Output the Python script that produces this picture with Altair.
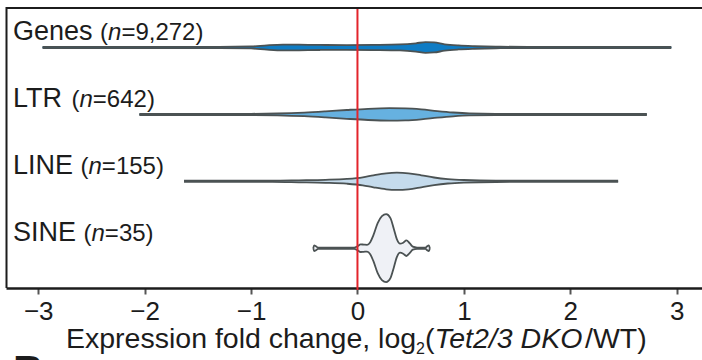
import altair as alt
import pandas as pd

# ---------------- data ----------------
CATEGORIES = ["Genes", "LTR", "LINE", "SINE"]
COUNTS = ["9,272", "642", "155", "35"]
FILLS = ["#0f7cc4", "#66b1e0", "#c5dbec", "#eff1f6"]

# violin outlines: x = log2 fold change, w = half-width (px)
GENES_X = [-2.96, -1.3, -1.0, -0.85, -0.7, -0.55, -0.35, -0.1, 0.15, 0.4, 0.55, 0.64, 0.72, 0.82, 0.95, 1.1, 1.3, 1.6, 2.95]
GENES_W = [0.6, 0.6, 1.0, 2.2, 2.9, 2.8, 2.5, 2.4, 2.6, 3.0, 4.2, 5.4, 5.0, 3.2, 2.0, 1.3, 0.8, 0.6, 0.6]

LTR_X = [-2.05, -1.0, -0.75, -0.5, -0.3, -0.1, 0.1, 0.3, 0.45, 0.6, 0.75, 0.9, 1.05, 1.3, 2.72]
LTR_W = [0.6, 0.6, 0.9, 1.8, 3.0, 4.4, 5.6, 6.2, 6.0, 5.0, 3.3, 1.9, 1.0, 0.6, 0.6]

LINE_X = [-1.63, -0.8, -0.55, -0.3, -0.1, 0.05, 0.15, 0.27, 0.37, 0.48, 0.6, 0.72, 0.85, 1.0, 1.3, 2.45]
LINE_W = [0.6, 0.6, 1.0, 1.5, 2.4, 4.0, 6.0, 8.0, 8.6, 8.0, 6.0, 3.8, 2.2, 1.3, 0.7, 0.6]

SINE_X = [-0.415, -0.408, -0.39, -0.37, -0.2, -0.03, 0.0, 0.03, 0.06, 0.09, 0.12, 0.15, 0.19, 0.23, 0.27,
          0.31, 0.34, 0.37, 0.40, 0.43, 0.46, 0.49, 0.52, 0.56, 0.64, 0.655, 0.672, 0.68]
SINE_W = [0.0, 2.8, 2.0, 0.6, 0.6, 0.6, 2.0, 3.8, 3.6, 3.4, 6.0, 13.0, 25.0, 32.0, 34.0,
          30.0, 20.0, 9.0, 4.5, 5.5, 7.8, 5.0, 1.5, 0.6, 0.6, 2.0, 2.8, 0.0]

TICKS = [-3, -2, -1, 0, 1, 2, 3]

# ---------------- layout / style ----------------
FONT = "Liberation Sans"
INK = "#1c1c1c"
OUTLINE = "#4b5253"
RED = "#e3242b"
PX_PER_ROW = 66.9
X_DOMAIN = [-3.303, 3.238]
Y_DOMAIN = [-0.590, 3.595]
W, H = 696, 280

ARIAL = {' ': 278, '(': 333, ')': 333, ',': 278, '/': 278, '=': 584, 'E': 667, 'x': 500, 'p': 556,
         'r': 333, 'e': 556, 's': 500, 'i': 222, 'o': 556, 'n': 556, 'f': 278, 'l': 222, 'd': 556,
         'c': 500, 'h': 556, 'a': 556, 'g': 556, 'T': 611, 't': 278, 'D': 722, 'K': 667, 'O': 778,
         'W': 944, 'G': 778, 'L': 556, 'R': 722, 'I': 278, 'N': 722, 'S': 667}


def tw(s, size):
    return sum(ARIAL.get(c, 556) for c in s) * size / 1000.0


xs = alt.Scale(domain=X_DOMAIN, nice=False, zero=False)
ys = alt.Scale(domain=Y_DOMAIN, reverse=True, nice=False, zero=False)

series = [(GENES_X, GENES_W), (LTR_X, LTR_W), (LINE_X, LINE_W), (SINE_X, SINE_W)]
rows = []
for i, (cat, (xv, wv)) in enumerate(zip(CATEGORIES, series)):
    for x, w in zip(xv, wv):
        rows.append(dict(cat=cat, x=x, lo=i - w / PX_PER_ROW, hi=i + w / PX_PER_ROW))
df = pd.DataFrame(rows)

x_axis = alt.Axis(values=TICKS, format="d", grid=False, title=None, domainColor=INK, domainWidth=2.5,
                  tickColor="#555555", tickWidth=2, tickSize=6, labelFont=FONT, labelFontSize=26,
                  labelColor=INK, labelPadding=4, labelFlush=False, labelOverlap=False)

fill = alt.Chart(df).mark_area(interpolate="monotone").encode(
    x=alt.X("x:Q", scale=xs, axis=x_axis),
    y=alt.Y("lo:Q", scale=ys, axis=None),
    y2="hi:Q",
    color=alt.Color("cat:N", scale=alt.Scale(domain=CATEGORIES, range=FILLS), legend=None),
    detail="cat:N",
)
upper = alt.Chart(df).mark_line(interpolate="monotone", color=OUTLINE, strokeWidth=1.8).encode(
    x=alt.X("x:Q", scale=xs), y=alt.Y("lo:Q", scale=ys), detail="cat:N")
lower = alt.Chart(df).mark_line(interpolate="monotone", color=OUTLINE, strokeWidth=1.8).encode(
    x=alt.X("x:Q", scale=xs), y=alt.Y("hi:Q", scale=ys), detail="cat:N")

zero = alt.Chart(pd.DataFrame({"x": [0]})).mark_rule(color=RED, strokeWidth=2).encode(
    x=alt.X("x:Q", scale=xs), y=alt.value(0), y2=alt.value(H + 2))

one = pd.DataFrame({"d": [0]})
left_border = alt.Chart(one).mark_rule(color=INK, strokeWidth=2).encode(
    x=alt.value(0.5), y=alt.value(-1), y2=alt.value(H))
top_border = alt.Chart(one).mark_rule(color=INK, strokeWidth=2).encode(
    x=alt.value(0), x2=alt.value(W + 10), y=alt.value(0))

layers = [fill, upper, lower, zero, left_border, top_border]

# category labels
NAME_FS, N_FS = 27, 24
for i, (cat, cnt) in enumerate(zip(CATEGORIES, COUNTS)):
    x0 = 7
    pieces = [(cat, NAME_FS, "normal", x0)]
    x1 = x0 + tw(cat + " ", NAME_FS)
    pieces.append(("(", N_FS, "normal", x1))
    x2 = x1 + tw("(", N_FS)
    pieces.append(("n", N_FS, "italic", x2))
    x3 = x2 + tw("n", N_FS)
    pieces.append(("=" + cnt + ")", N_FS, "normal", x3))
    for txt, fs, style, px in pieces:
        layers.append(alt.Chart(one).mark_text(
            text=txt, font=FONT, fontSize=fs, fontStyle=style, color=INK,
            align="left", baseline="alphabetic", dy=-7.5).encode(
            x=alt.value(px), y=alt.Y(datum=i, type="quantitative", scale=ys)))

# axis title with subscript and italics
T_FS = 28.5
tx_cur = 60
ty = 340
for txt, fs, style, dyy in [("Expression fold change, log", T_FS, "normal", 0),
                            ("2", 16, "normal", 6),
                            ("(", T_FS, "normal", 0),
                            ("Tet2/3 DKO", T_FS, "italic", 0),
                            ("/WT)", T_FS, "normal", 0)]:
    layers.append(alt.Chart(one).mark_text(
        text=txt, font=FONT, fontSize=fs, fontStyle=style, color=INK,
        align="left", baseline="alphabetic").encode(
        x=alt.value(tx_cur), y=alt.value(ty + dyy)))
    tx_cur += tw(txt, fs)

# partial panel letter at the bottom edge
layers.append(alt.Chart(one).mark_text(
    text="B", font=FONT, fontSize=42, fontWeight="bold", color=INK,
    align="left", baseline="alphabetic").encode(x=alt.value(7), y=alt.value(377)))

chart = alt.layer(*layers).properties(
    width=W, height=H,
    autosize=alt.AutoSizeParams(type="none"),
    padding={"left": 6, "top": 8, "right": 0, "bottom": 72},
).configure_view(stroke=None)

chart.save("out.html", embed_options={"renderer": "svg", "actions": False})
